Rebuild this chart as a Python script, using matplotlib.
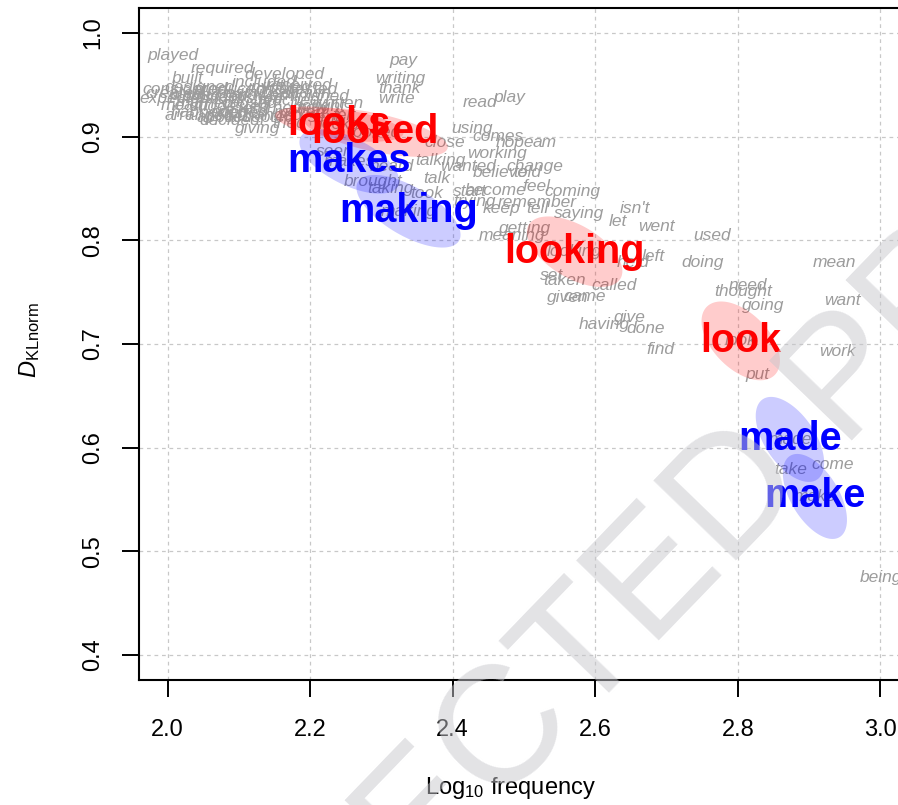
import numpy as np
import matplotlib
matplotlib.use('Agg')
import matplotlib.pyplot as plt
from matplotlib.ticker import FormatStrFormatter

plt.rcParams['font.family'] = ['Liberation Sans', 'DejaVu Sans']
plt.rcParams['mathtext.fontset'] = 'custom'
plt.rcParams['mathtext.rm'] = 'Liberation Sans'
plt.rcParams['mathtext.it'] = 'Liberation Sans:italic'

# background words: log10 frequency vs normalised KL divergence
gray_words = ['played', 'required', 'built', 'developed', 'considered', 'created', 'designed',
              'produced', 'described', 'established', 'involved', 'received', 'included',
              'provided', 'expected', 'caused', 'reached', 'suggested', 'returned', 'married',
              'opened', 'changed', 'moved', 'decided', 'placed', 'allowed', 'finished',
              'interested', 'bought', 'tried', 'sent', 'applied', 'accepted', 'meant',
              'happened', 'arranged', 'giving', 'shown', 'written', 'new', 'felt',
              'pay', 'writing', 'thank', 'write', 'read', 'play', 'using', 'comes', 'hope',
              'am', 'close', 'working', 'talking', 'wanted', 'change', 'believe', 'told',
              'heard', 'seen', 'talk', 'brought', 'taking', 'took', 'start', 'become', 'feel',
              'coming', 'remember', 'trying', 'keep', 'tell', 'saying', "isn't", 'let', 'went',
              'getting', 'meaning', 'used', 'doing', 'left', 'held', 'set', 'taken', 'called',
              'came', 'given', 'having', 'give', 'done', 'find', 'thought', 'need', 'going',
              'mean', 'want', 'work', 'put', 'take', 'come', 'being']
gray_x = [2.008, 2.077, 2.028, 2.164, 2.024, 2.010, 2.045,
          2.087, 2.122, 2.101, 2.157, 2.185, 2.136,
          2.066, 2.010, 2.115, 2.171, 2.087, 2.143, 2.052,
          2.101, 2.143, 2.185, 2.087, 2.038, 2.129, 2.213,
          2.185, 2.213, 2.171, 2.220, 2.080, 2.129, 2.024,
          2.059, 2.045, 2.126, 2.196, 2.239, 2.204, 2.248,
          2.331, 2.326, 2.326, 2.321, 2.438, 2.480, 2.427, 2.463, 2.487,
          2.529, 2.389, 2.462, 2.382, 2.421, 2.515, 2.466, 2.505,
          2.314, 2.234, 2.378, 2.288, 2.312, 2.364, 2.424, 2.460, 2.518,
          2.568, 2.519, 2.431, 2.469, 2.518, 2.577, 2.655, 2.632, 2.686,
          2.502, 2.483, 2.764, 2.751, 2.681, 2.653, 2.538, 2.557, 2.627,
          2.585, 2.561, 2.612, 2.648, 2.671, 2.692, 2.808, 2.814, 2.836,
          2.936, 2.947, 2.940, 2.827, 2.874, 2.933, 3.001]
gray_y = [0.978, 0.966, 0.956, 0.960, 0.945, 0.942, 0.947,
          0.945, 0.942, 0.937, 0.947, 0.949, 0.952,
          0.939, 0.937, 0.932, 0.935, 0.929, 0.927, 0.932,
          0.923, 0.920, 0.923, 0.916, 0.940, 0.940, 0.939,
          0.945, 0.929, 0.913, 0.918, 0.918, 0.918, 0.930,
          0.923, 0.920, 0.908, 0.942, 0.932, 0.927, 0.920,
          0.973, 0.956, 0.946, 0.937, 0.933, 0.938, 0.908, 0.900, 0.894,
          0.894, 0.894, 0.884, 0.877, 0.871, 0.871, 0.865, 0.865,
          0.871, 0.886, 0.860, 0.857, 0.850, 0.845, 0.847, 0.848, 0.852,
          0.847, 0.836, 0.837, 0.831, 0.831, 0.826, 0.831, 0.818, 0.813,
          0.811, 0.805, 0.805, 0.779, 0.784, 0.779, 0.766, 0.761, 0.756,
          0.746, 0.745, 0.719, 0.726, 0.715, 0.695, 0.751, 0.756, 0.737,
          0.779, 0.742, 0.693, 0.671, 0.579, 0.584, 0.475]

# highlighted forms of LOOK and MAKE, with spread of the estimate
key_words = ['looks', 'looked', 'makes', 'making', 'looking', 'look', 'made', 'make']
key_colors = ['red', 'red', 'blue', 'blue', 'red', 'red', 'blue', 'blue']
key_x = [2.241, 2.291, 2.255, 2.338, 2.571, 2.804, 2.873, 2.908]
key_y = [0.912, 0.904, 0.876, 0.828, 0.789, 0.703, 0.608, 0.553]
key_sx = [0.090, 0.102, 0.070, 0.073, 0.067, 0.055, 0.048, 0.045]
key_sy = [0.0170, 0.0235, 0.031, 0.035, 0.034, 0.038, 0.041, 0.041]
key_rho = [-0.5, -0.6, -0.6, -0.65, -0.55, -0.5, -0.55, -0.55]

fig = plt.figure(figsize=(8.98, 8.05), dpi=100)
ax = fig.add_axes([139 / 898, 1 - 680 / 805, 770 / 898, 672 / 805])
ax.set_xlim(1.96, 3.04)
ax.set_ylim(0.376, 1.024)

ax.set_xticks(np.arange(2.0, 3.01, 0.2))
ax.set_yticks(np.arange(0.4, 1.01, 0.1))
ax.xaxis.set_major_formatter(FormatStrFormatter('%.1f'))
ax.yaxis.set_major_formatter(FormatStrFormatter('%.1f'))
ax.grid(True, color='#c8c8c8', linestyle=(0, (3, 3)), linewidth=0.9)
ax.set_axisbelow(True)
ax.tick_params(length=12, width=1.4, labelsize=17, pad=16)
ax.tick_params(axis='y', labelrotation=90, pad=13)
for lab in ax.get_yticklabels():
    lab.set_va('center')
for sp in ax.spines.values():
    sp.set_linewidth(1.5)

for w, x, y in zip(gray_words + key_words, gray_x + key_x, gray_y + key_y):
    ax.text(x, y, w, color='#9c9c9c', fontsize=12.5, style='italic',
            ha='center', va='center', zorder=2)

t = np.linspace(0, 2 * np.pi, 120)
for x, y, sx, sy, r, c in zip(key_x, key_y, key_sx, key_sy, key_rho, key_colors):
    d = np.arccos(r)
    ax.fill(x + sx * np.cos(t), y + sy * np.cos(t + d), color=c, alpha=0.2,
            lw=0, zorder=3)

for w, x, y, c in zip(key_words, key_x, key_y, key_colors):
    ax.text(x, y, w, color=c, fontsize=28.5, fontweight='bold',
            ha='center', va='center', zorder=4)

ax.set_xlabel('Log$_{10}$ frequency', fontsize=17)
ax.xaxis.set_label_coords(0.483, -0.161)
ax.xaxis.label.set_va('center')
ax.set_ylabel(r'$D_{\mathrm{KLnorm}}$', fontsize=17)
ax.yaxis.set_label_coords(-0.1416, 0.506)
ax.yaxis.label.set_va('center')

fig.text(552 / 898, 1 - 690 / 805, 'UNCORRECTED PROOF', fontsize=120, rotation=46,
         rotation_mode='anchor', ha='center', va='center', color=(0.78, 0.78, 0.8),
         alpha=0.5, zorder=10)

fig.savefig('out.png', dpi=100)
